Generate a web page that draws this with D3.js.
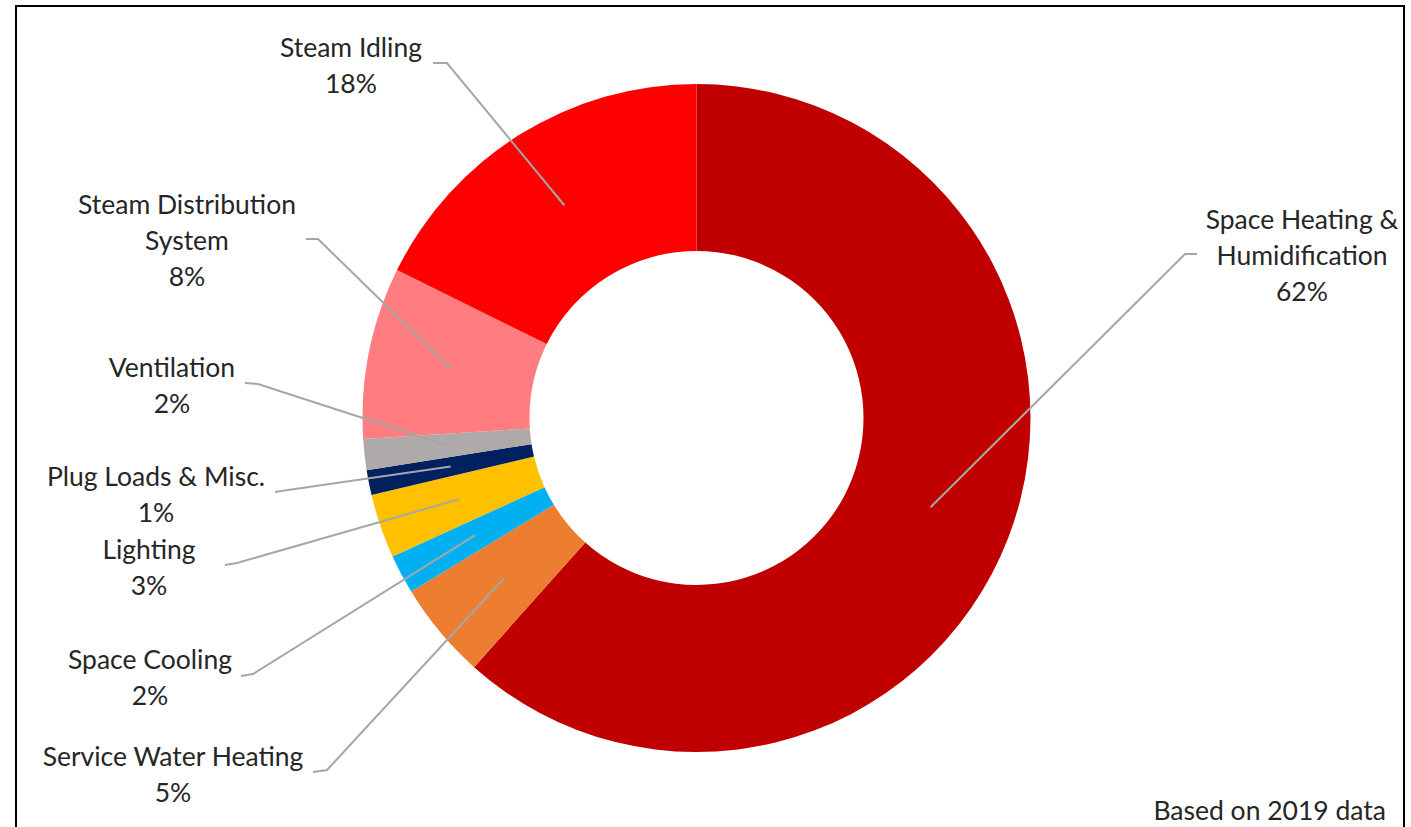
<!DOCTYPE html>
<html>
<head>
<meta charset="utf-8">
<script src="https://cdn.jsdelivr.net/npm/d3@7"></script>
<style>
    body { margin: 0; background: #fff; }
    text { font-family: Lato, "Open Sans", sans-serif; fill: #262626; }
</style>
</head>
<body>
<div id="chart-area"></div>
<script>
var width = 1411;
var height = 827;

// data (share of energy use, %)
var categories = ["Space Heating & Humidification", "Service Water Heating", "Space Cooling", "Lighting",
    "Plug Loads & Misc.", "Ventilation", "Steam Distribution System", "Steam Idling"];
var values = [61.6, 4.7, 1.9, 3.1, 1.2, 1.5, 8.3, 17.7];
var colors = ["#C00000", "#ED7D31", "#00B0F0", "#FFC000", "#002060", "#AEAAAA", "#FF7C80", "#FF0000"];
var labelLines = [["Space Heating &", "Humidification"], ["Service Water Heating"], ["Space Cooling"], ["Lighting"],
    ["Plug Loads & Misc."], ["Ventilation"], ["Steam Distribution", "System"], ["Steam Idling"]];
var note = "Based on 2019 data";

// label layout: text centre x, first line y, leader start (next to text) and elbow
var labelPos = [
    {x: 1302, y: 220, sx: 1197, sy: 254, ex: 1185, ey: 254},
    {x: 173, y: 757, sx: 313, sy: 772, ex: 327, ey: 770},
    {x: 150, y: 660, sx: 241, sy: 676, ex: 253, ey: 674},
    {x: 149, y: 550, sx: 225, sy: 565, ex: 237, ey: 563},
    {x: 156, y: 477, sx: 275, sy: 492, ex: 288, ey: 490},
    {x: 172, y: 368, sx: 245, sy: 383, ex: 258, ey: 384},
    {x: 187, y: 205, sx: 306, sy: 239, ex: 318, ey: 239},
    {x: 351, y: 48, sx: 433, sy: 63, ex: 447, ey: 63}
];

var cx = 696.5, cy = 418;
var outerR = 334, innerR = 167;
var lineH = 35.8;
var fontSize = 26.5;

var svg = d3.select("#chart-area").append("svg")
    .attr("width", width)
    .attr("height", height);

// frame
svg.append("rect")
    .attr("x", 16)
    .attr("y", 6)
    .attr("width", 1388)
    .attr("height", height + 20)
    .attr("fill", "none")
    .attr("stroke", "#000")
    .attr("stroke-width", 2);

var data = categories.map(function(c, i) {
    return {name: c, value: values[i], color: colors[i], lines: labelLines[i], pos: labelPos[i]};
});

var pie = d3.pie()
    .sort(null)
    .value(function(d) { return d.value; });

var arc = d3.arc()
    .innerRadius(innerR)
    .outerRadius(outerR);

var g = svg.append("g")
    .attr("transform", "translate(" + cx + "," + cy + ")");

var arcs = pie(data);

g.selectAll("path")
    .data(arcs)
    .enter()
    .append("path")
    .attr("d", arc)
    .attr("fill", function(d) { return d.data.color; });

// leader lines
g.selectAll("polyline")
    .data(arcs)
    .enter()
    .append("polyline")
    .attr("points", function(d) {
        var c = arc.centroid(d);
        var p = d.data.pos;
        return [[p.sx - cx, p.sy - cy], [p.ex - cx, p.ey - cy], c].join(" ");
    })
    .attr("fill", "none")
    .attr("stroke", "#A6A6A6")
    .attr("stroke-width", 2);

// labels
var labels = svg.selectAll("text.label")
    .data(data)
    .enter()
    .append("text")
    .attr("class", "label")
    .attr("text-anchor", "middle")
    .attr("font-size", fontSize);

labels.each(function(d) {
    var t = d3.select(this);
    var lines = d.lines.concat([Math.round(d.value) + "%"]);
    lines.forEach(function(l, k) {
        t.append("tspan")
            .attr("x", d.pos.x)
            .attr("y", d.pos.y + k * lineH)
            .attr("dy", "0.35em")
            .text(l);
    });
});

svg.append("text")
    .attr("x", 1386)
    .attr("y", 811)
    .attr("dy", "0.35em")
    .attr("text-anchor", "end")
    .attr("font-size", fontSize)
    .text(note);
</script>
</body>
</html>
